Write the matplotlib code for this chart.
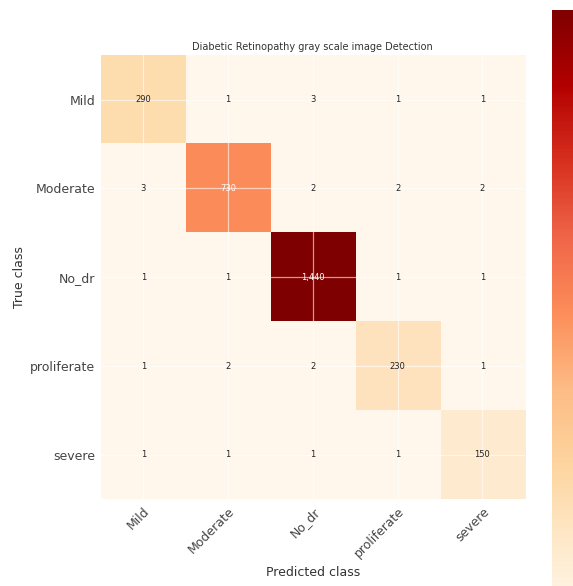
import numpy as np
import matplotlib
matplotlib.use("Agg")
import matplotlib.pyplot as plt

classes = ["Mild", "Moderate", "No_dr", "proliferate", "severe"]
cm = np.array([
    [290, 1, 3, 1, 1],
    [3, 730, 2, 2, 2],
    [1, 1, 1440, 1, 1],
    [1, 2, 2, 230, 1],
    [1, 1, 1, 1, 150],
])

fig = plt.figure(figsize=(5.73, 5.86), dpi=100)
ax = fig.add_axes([0.176, 0.148, 0.740, 0.758])
cax = fig.add_axes([0.963, -0.05, 0.06, 1.033])

im = ax.imshow(cm, cmap="OrRd", aspect="auto", interpolation="nearest")
cb = fig.colorbar(im, cax=cax)
cb.outline.set_visible(False)
cax.set_yticks([])

ax.set_xticks(np.arange(len(classes)))
ax.set_yticks(np.arange(len(classes)))
ax.set_xticklabels(classes, rotation=45, ha="right", rotation_mode="anchor",
                   fontsize=9, color="#444444")
ax.set_yticklabels(classes, fontsize=9, color="#444444")
ax.tick_params(axis="x", length=0, pad=4)
ax.tick_params(axis="y", length=0, pad=4)
ax.grid(True, color="white", linewidth=0.9, alpha=0.6)
for s in ax.spines.values():
    s.set_visible(False)

thresh = cm.max() / 2
for i in range(cm.shape[0]):
    for j in range(cm.shape[1]):
        ax.text(j, i, "{:,}".format(cm[i, j]), ha="center", va="center", fontsize=6,
                color="white" if cm[i, j] > thresh else "#222222")

ax.set_title("Diabetic Retinopathy gray scale image Detection", fontsize=7, color="#333333", pad=4)
ax.set_xlabel("Predicted class", fontsize=9, color="#333333", labelpad=4)
ax.set_ylabel("True class", fontsize=9, color="#333333", labelpad=3)

fig.savefig("out.png", dpi=100)
